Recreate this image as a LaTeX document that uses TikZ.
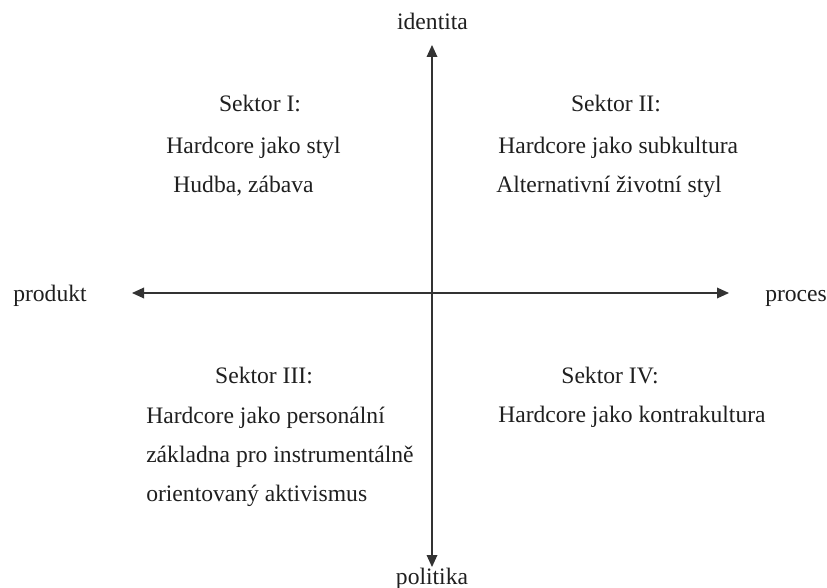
\documentclass[tikz,border=0pt]{standalone}
\usepackage{fontspec}
\setmainfont{Liberation Serif}
\usetikzlibrary{arrows.meta}
\begin{document}
\begin{tikzpicture}[x=0.75pt,y=-0.75pt,
  lbl/.style={inner sep=0pt,anchor=base,font=\fontsize{17.7}{21}\selectfont,text=black!88},
  lblw/.style={lbl,anchor=base west},
  axis/.style={line width=0.95pt,draw=black!80,{Triangle[length=9pt,width=8pt]}-{Triangle[length=9pt,width=8pt]}}]
\useasboundingbox (0,0) rectangle (827,588);
\coordinate (top) at (432,45);
\coordinate (bot) at (432,567);
\coordinate (lft) at (132,293);
\coordinate (rgt) at (729,293);
\draw[axis] (top) -- (bot);
\draw[axis] (lft) -- (rgt);
\node[lbl] (id) at (432.5,30) {identita};
\node[lbl] (pol) at (432,584) {politika};
\node[lblw] (prod) at (13,301) {produkt};
\node[lblw] (proc) at (765,301) {proces};
% Sektor I
\node[lbl] (s1) at (260,112) {Sektor I:};
\node[lbl] (s1a) at (253.5,153) {Hardcore jako styl};
\node[lbl] (s1b) at (243.5,192) {Hudba, zábava};
% Sektor II
\node[lbl] (s2) at (616,112) {Sektor II:};
\node[lblw] (s2a) at (498,153) {Hardcore jako subkultura};
\node[lblw] (s2b) at (496,192) {Alternativní životní styl};
% Sektor III
\node[lbl] (s3) at (264,383) {Sektor III:};
\node[lblw] (s3a) at (146,423) {Hardcore jako personální};
\node[lblw] (s3b) at (146,462) {základna pro instrumentálně};
\node[lblw] (s3c) at (146,501) {orientovaný aktivismus};
% Sektor IV
\node[lbl] (s4) at (610,383) {Sektor IV:};
\node[lblw] (s4a) at (498,422) {Hardcore jako kontrakultura};
\end{tikzpicture}
\end{document}
